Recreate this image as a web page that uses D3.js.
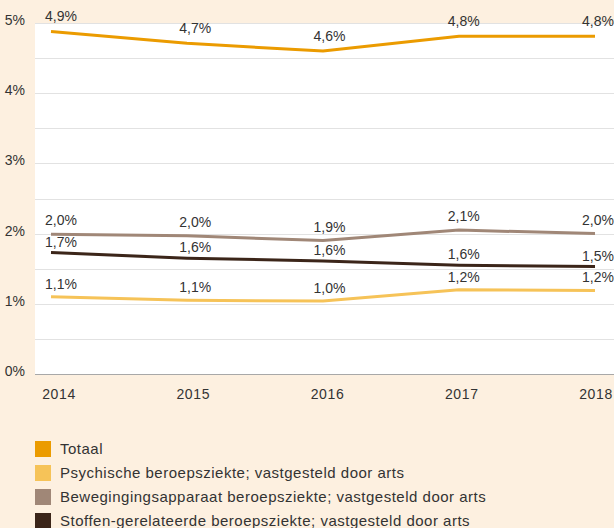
<!DOCTYPE html>
<html>
<head>
<meta charset="utf-8">
<script src="https://cdn.jsdelivr.net/npm/d3@7"></script>
<style>
  body { margin: 0; background: #fdf0e0; }
  svg { display: block; font-family: "Liberation Sans", Arial, sans-serif; }
</style>
</head>
<body>
<div id="chart"></div>
<script>
// beroepsziekten, percentage per jaar
var years = [2014, 2015, 2016, 2017, 2018];
var seriesNames = [
    "Totaal",
    "Psychische beroepsziekte; vastgesteld door arts",
    "Bewegingingsapparaat beroepsziekte; vastgesteld door arts",
    "Stoffen-gerelateerde beroepsziekte; vastgesteld door arts"
];
var totaal      = [4.88, 4.71, 4.60, 4.81, 4.81];
var psychisch   = [1.10, 1.05, 1.04, 1.20, 1.19];
var beweging    = [1.99, 1.97, 1.90, 2.05, 2.00];
var stoffen     = [1.73, 1.65, 1.61, 1.55, 1.53];
// labels as printed in the chart
var totaalLabels    = ["4,9%", "4,7%", "4,6%", "4,8%", "4,8%"];
var psychischLabels = ["1,1%", "1,1%", "1,0%", "1,2%", "1,2%"];
var bewegingLabels  = ["2,0%", "2,0%", "1,9%", "2,1%", "2,0%"];
var stoffenLabels   = ["1,7%", "1,6%", "1,6%", "1,6%", "1,5%"];
var yTicks = [0, 1, 2, 3, 4, 5];
var yGrid = [0.5, 1, 1.5, 2, 2.5, 3, 3.5, 4, 4.5, 5];

var colors = ["#eb9b00", "#f6c358", "#a08777", "#3b2519"];
var lineData = [totaal, psychisch, beweging, stoffen];
var labelData = [totaalLabels, psychischLabels, bewegingLabels, stoffenLabels];
var labelOffset = [-10, -8, -9, -6];

var width = 614, height = 528;
var plot = { left: 35, right: 614, top: 23, bottom: 374 };

var svg = d3.select("#chart").append("svg")
    .attr("width", width)
    .attr("height", height);

svg.append("rect")
    .attr("width", width).attr("height", height)
    .attr("fill", "#fdf0e0");

svg.append("rect")
    .attr("x", plot.left).attr("y", plot.top)
    .attr("width", plot.right - plot.left)
    .attr("height", plot.bottom - plot.top)
    .attr("fill", "#ffffff");

var x = d3.scalePoint().domain(years).range([51, 595]);
var xLab = d3.scalePoint().domain(years).range([59, 596]);
var y = d3.scaleLinear().domain([0, 5]).range([plot.bottom, plot.top]);

// gridlines
svg.selectAll(".grid").data(yGrid).enter().append("line")
    .attr("class", "grid")
    .attr("x1", plot.left).attr("x2", plot.right)
    .attr("y1", function (d) { return Math.round(y(d)) + 0.5; })
    .attr("y2", function (d) { return Math.round(y(d)) + 0.5; })
    .attr("stroke", "#e2e2e2")
    .attr("stroke-width", 1);

svg.append("line")
    .attr("x1", plot.left).attr("x2", plot.right)
    .attr("y1", y(0) + 0.5).attr("y2", y(0) + 0.5)
    .attr("stroke", "#a8a8a8")
    .attr("stroke-width", 1.2);

// y tick labels
svg.selectAll(".ytick").data(yTicks).enter().append("text")
    .attr("class", "ytick")
    .attr("x", 25)
    .attr("y", function (d) { return y(d) + 2; })
    .attr("text-anchor", "end")
    .attr("font-size", "14px")
    .attr("fill", "#333")
    .text(function (d) { return d + "%"; });

// x tick labels
svg.selectAll(".xtick").data(years).enter().append("text")
    .attr("class", "xtick")
    .attr("x", function (d) { return xLab(d); })
    .attr("y", 399)
    .attr("text-anchor", "middle")
    .attr("font-size", "14px")
    .attr("letter-spacing", "0.6px")
    .attr("fill", "#333")
    .text(function (d) { return d; });

var line = d3.line()
    .x(function (d, i) { return x(years[i]); })
    .y(function (d) { return y(d); });

// draw from back to front: stoffen under others
[1, 3, 2, 0].forEach(function (s) {
    svg.append("path")
        .datum(lineData[s])
        .attr("d", line)
        .attr("fill", "none")
        .attr("stroke", colors[s])
        .attr("stroke-width", 3);
});

lineData.forEach(function (vals, s) {
    svg.selectAll(".lab" + s).data(vals).enter().append("text")
        .attr("class", "lab" + s)
        .attr("x", function (d, i) { return xLab(years[i]) + 2; })
        .attr("y", function (d) { return y(d) + labelOffset[s]; })
        .attr("text-anchor", "middle")
        .attr("font-size", "14px")
        .attr("fill", "#333")
        .text(function (d, i) { return labelData[s][i]; });
});

// legend
var legend = svg.selectAll(".legend").data(seriesNames).enter().append("g")
    .attr("class", "legend")
    .attr("transform", function (d, i) { return "translate(35," + (441 + i * 24) + ")"; });

legend.append("rect")
    .attr("width", 16).attr("height", 16)
    .attr("fill", function (d, i) { return colors[i]; });

legend.append("text")
    .attr("x", 25).attr("y", 13)
    .attr("font-size", "15px")
    .attr("letter-spacing", "0.5px")
    .attr("fill", "#333")
    .text(function (d) { return d; });
</script>
</body>
</html>
